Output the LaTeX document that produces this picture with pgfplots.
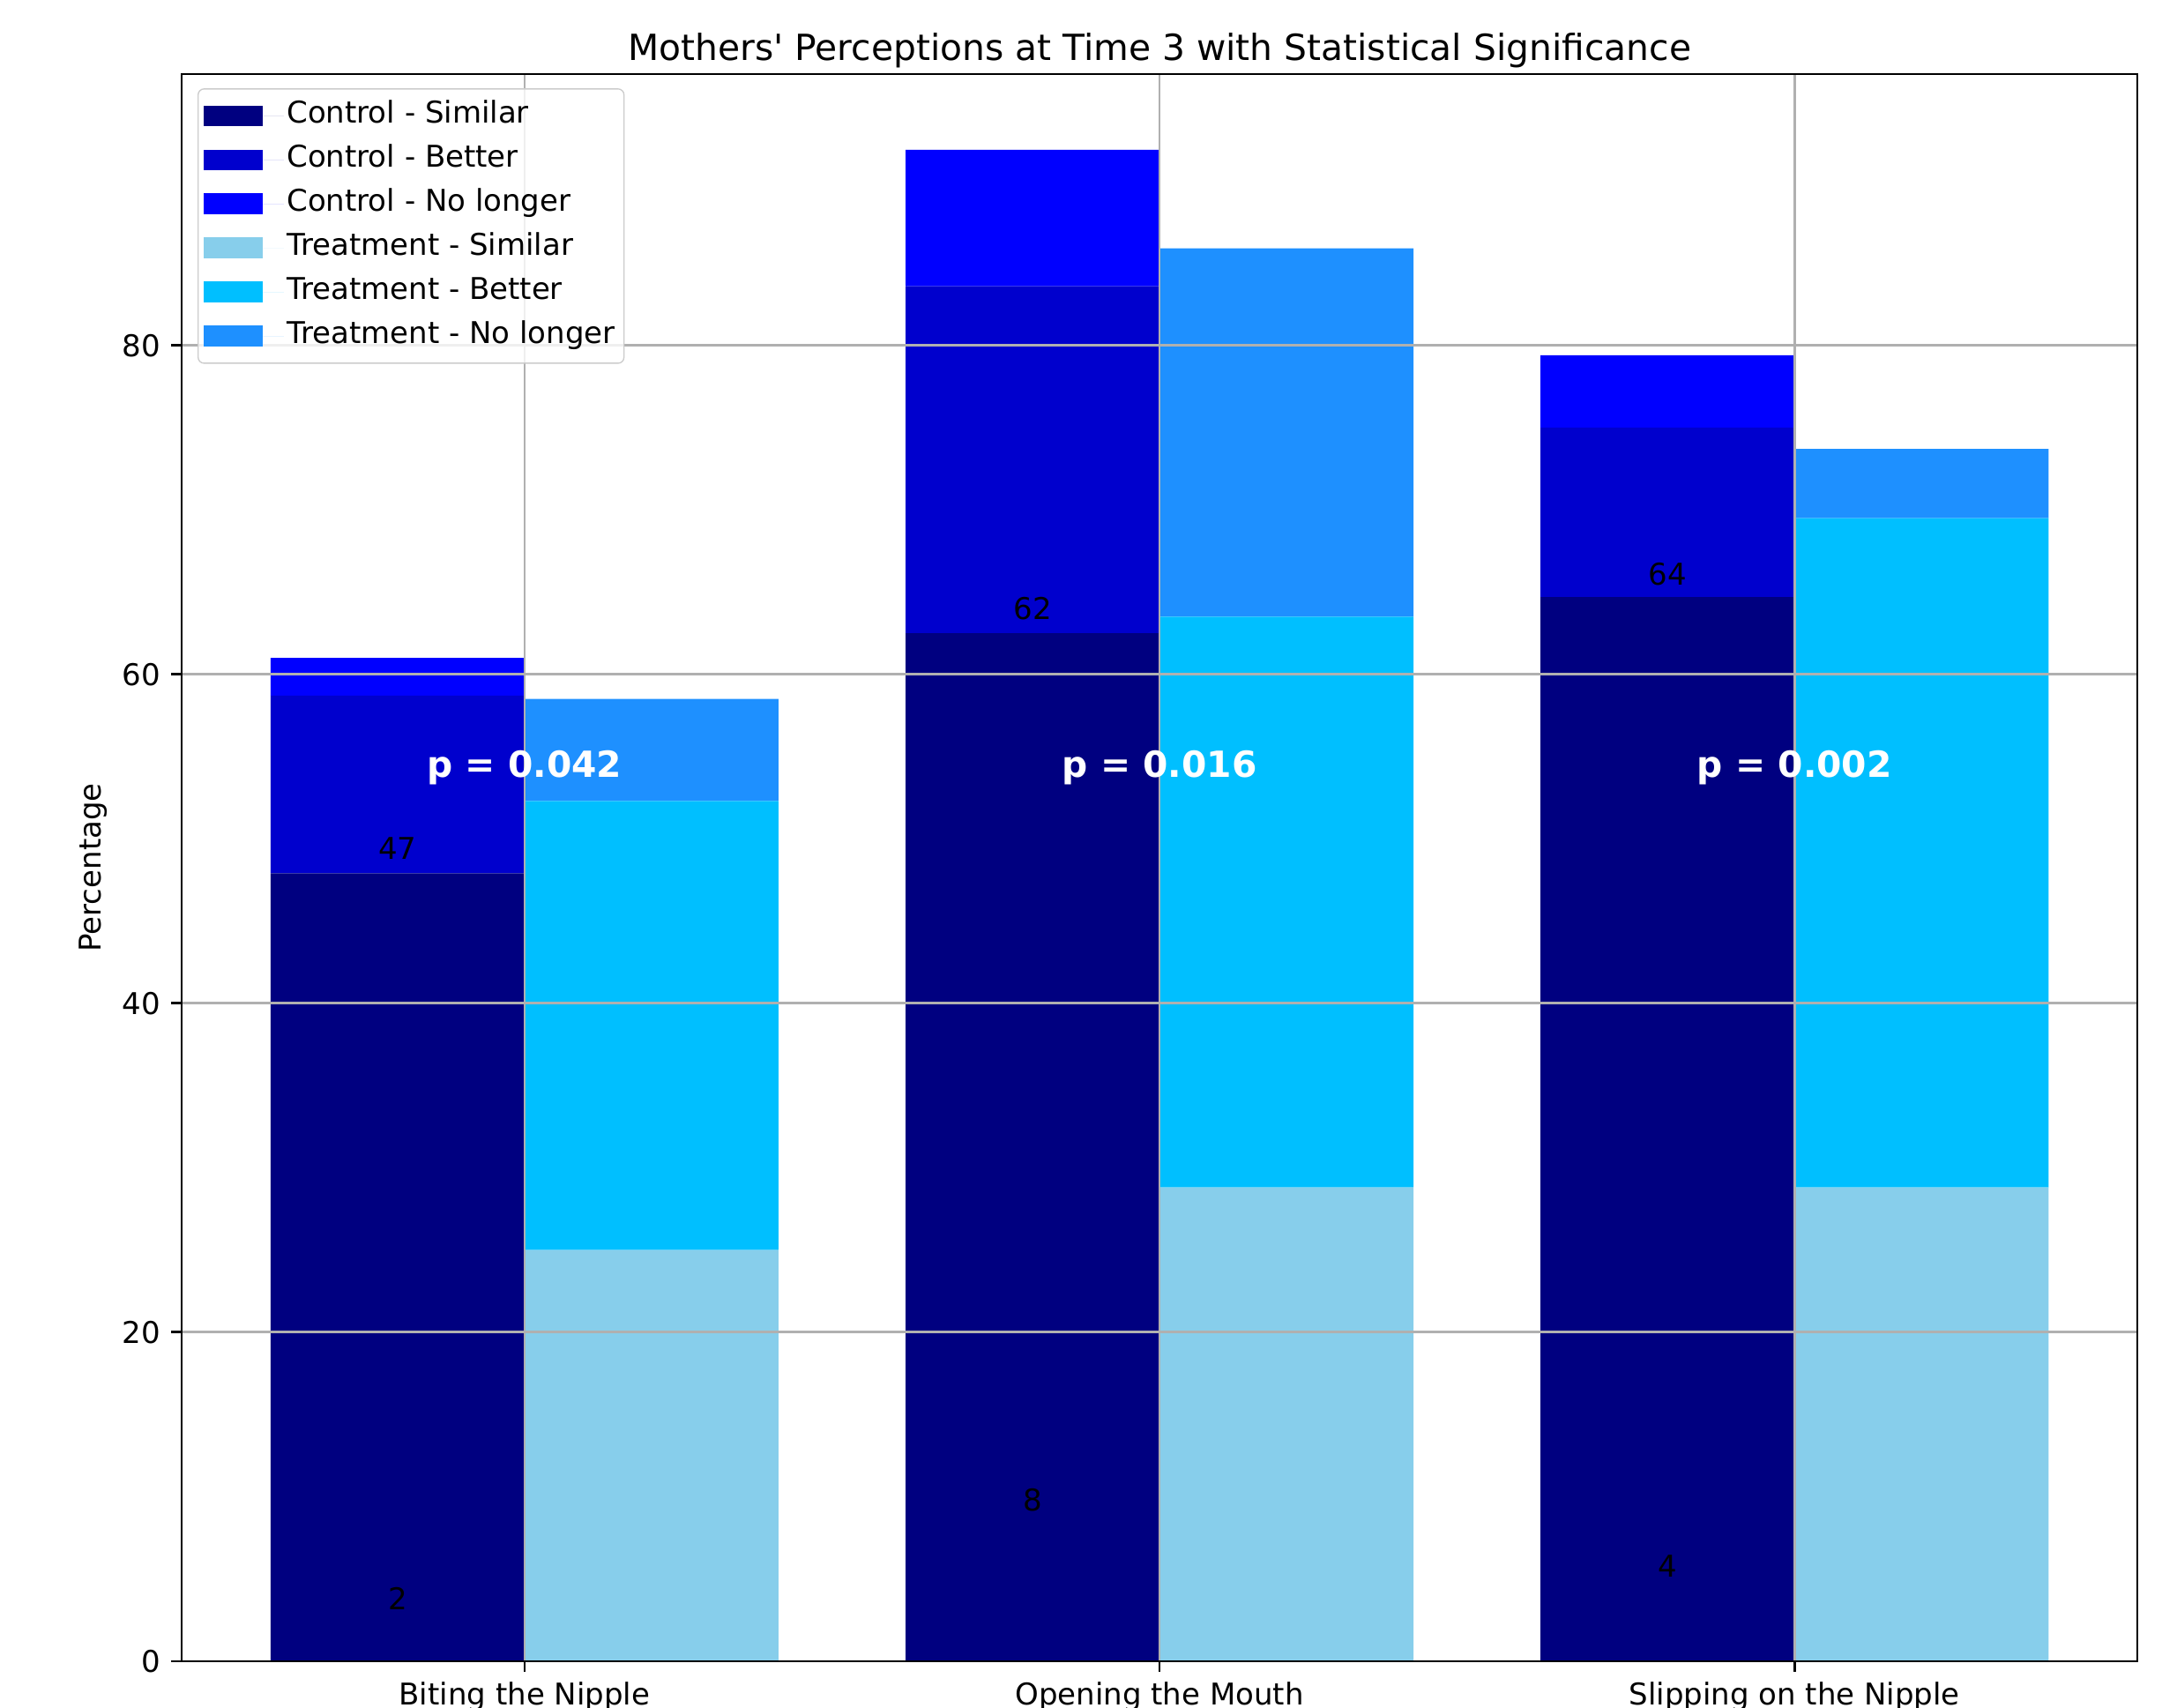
\documentclass[border=0pt]{standalone}
\usepackage{pgfplots}
\pgfplotsset{compat=1.18}
\usepackage{fontspec}
\setmainfont{DejaVu Sans}
\definecolor{cSim}{HTML}{000080}
\definecolor{cBet}{HTML}{0000CD}
\definecolor{cNo}{HTML}{0000FF}
\definecolor{tSim}{HTML}{87CEEB}
\definecolor{tBet}{HTML}{00BFFF}
\definecolor{tNo}{HTML}{1E90FF}
\definecolor{gridc}{HTML}{B0B0B0}
\pgfplotsset{
  base/.style={
    scale only axis, width=652.4pt, height=529.4pt,
    at={(0,0)}, anchor=south west,
    xmin=-0.54, xmax=2.54, ymin=0, ymax=96.5,
    ybar stacked, bar width=0.4,
    xtick={0,1,2}, ytick={0,20,40,60,80},
    legend image code/.code={\fill[#1, fill opacity=1, sharp corners] (0pt,-3.5pt) rectangle (19.7pt,3.5pt); \path (0pt,0pt) -- (26.6pt,0pt);},
  }
}
\begin{document}
\begin{tikzpicture}
\clip (-60.6pt,-15.6pt) rectangle (660.6pt,554.1pt);
\begin{axis}[base, hide axis]
\addplot[fill=cSim, draw=none] coordinates {(-0.2,47.9) (0.8,62.5) (1.8,64.7)};
\addplot[fill=cBet, draw=none] coordinates {(-0.2,10.8) (0.8,21.1) (1.8,10.3)};
\addplot[fill=cNo, draw=none] coordinates {(-0.2,2.3) (0.8,8.3) (1.8,4.4)};
\end{axis}
\begin{axis}[base, axis on top,
  xmajorgrids, ymajorgrids,
  major grid style={gridc, line width=0.8pt},
  axis line style={line width=0.8pt},
  tick align=outside, major tick length=3.5pt,
  tick style={black, line width=0.8pt},
  xtick pos=bottom, ytick pos=left,
  xticklabels={Biting the Nipple, Opening the Mouth, Slipping on the Nipple},
  /pgf/number format/assume math mode=true,
  ticklabel style={font=\fontsize{10}{12}\selectfont},
  title={Mothers\textquotesingle\ Perceptions at Time 3 with Statistical Significance},
  title style={at={(axis description cs:0.5,1)}, anchor=base, yshift=-1.5pt, font=\fontsize{12}{14}\selectfont},
  ylabel={Percentage},
  ylabel style={at={(axis description cs:0,0.5)}, yshift=29.4pt, anchor=center, font=\fontsize{10}{12}\selectfont},
  legend style={at={(axis description cs:0.0081,0.991)}, anchor=north west,
    draw=black!20, rounded corners=2pt, fill=white, fill opacity=0.8, text opacity=1,
    font=\fontsize{10}{12}\selectfont, row sep=2.7pt, inner xsep=2pt, inner ysep=3pt,
    nodes={inner sep=1pt, text height=7.5pt, text depth=2.5pt}},
  legend cell align=left,
]
\addlegendimage{fill=cSim, draw=none}
\addlegendentry{Control - Similar}
\addlegendimage{fill=cBet, draw=none}
\addlegendentry{Control - Better}
\addlegendimage{fill=cNo, draw=none}
\addlegendentry{Control - No longer}
\addplot[fill=tSim, draw=none] coordinates {(0.2,25.0) (1.2,28.8) (2.2,28.8)};
\addlegendentry{Treatment - Similar}
\addplot[fill=tBet, draw=none] coordinates {(0.2,27.3) (1.2,34.7) (2.2,40.7)};
\addlegendentry{Treatment - Better}
\addplot[fill=tNo, draw=none] coordinates {(0.2,6.2) (1.2,22.4) (2.2,4.2)};
\addlegendentry{Treatment - No longer}
\end{axis}
\begin{axis}[base, hide axis]
\node[font=\fontsize{10}{12}\selectfont] at (axis cs:-0.2,49.4) {47};
\node[font=\fontsize{10}{12}\selectfont] at (axis cs:0.8,64.0) {62};
\node[font=\fontsize{10}{12}\selectfont] at (axis cs:1.8,66.1) {64};
\node[font=\fontsize{10}{12}\selectfont] at (axis cs:-0.2,3.8) {2};
\node[font=\fontsize{10}{12}\selectfont] at (axis cs:0.8,9.8) {8};
\node[font=\fontsize{10}{12}\selectfont] at (axis cs:1.8,5.8) {4};
\node[font=\bfseries\fontsize{12}{14}\selectfont, text=white] at (axis cs:0,54.3) {p = 0.042};
\node[font=\bfseries\fontsize{12}{14}\selectfont, text=white] at (axis cs:1,54.3) {p = 0.016};
\node[font=\bfseries\fontsize{12}{14}\selectfont, text=white] at (axis cs:2,54.3) {p = 0.002};
\end{axis}
\end{tikzpicture}
\end{document}
